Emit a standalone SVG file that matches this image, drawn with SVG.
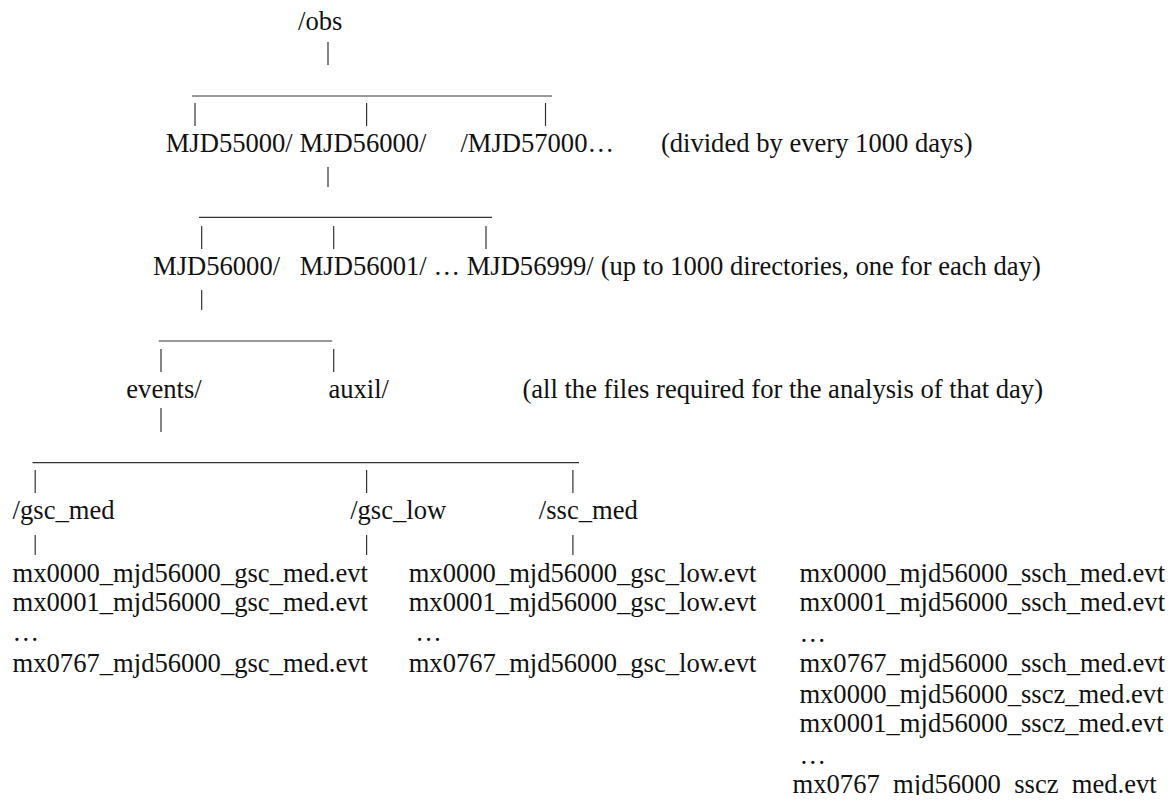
<svg xmlns="http://www.w3.org/2000/svg" width="1170" height="800" viewBox="0 0 1170 800">
<style>
text{font-family:"Liberation Serif","Times New Roman",serif;font-size:26.6px;fill:#111}
.c line{stroke:#333;stroke-width:1.2}
</style>
<defs><clipPath id="bot"><rect x="0" y="0" width="1170" height="795"/></clipPath></defs>
<rect width="1170" height="800" fill="#fff"/>
<g class="c" id="connectors">
<line x1="328" y1="42" x2="328" y2="65"/>
<line x1="192" y1="96" x2="552" y2="96"/>
<line x1="195" y1="103" x2="195" y2="126"/>
<line x1="366.6" y1="103" x2="366.6" y2="126"/>
<line x1="545.5" y1="103" x2="545.5" y2="126"/>
<line x1="328" y1="167" x2="328" y2="187"/>
<line x1="199" y1="217.3" x2="492" y2="217.3"/>
<line x1="201.7" y1="226" x2="201.7" y2="249"/>
<line x1="333.7" y1="226" x2="333.7" y2="249"/>
<line x1="486" y1="226" x2="486" y2="249"/>
<line x1="201.7" y1="290" x2="201.7" y2="310"/>
<line x1="158.8" y1="341" x2="332.2" y2="341"/>
<line x1="161" y1="349" x2="161" y2="372"/>
<line x1="333.7" y1="349" x2="333.7" y2="372"/>
<line x1="161" y1="408" x2="161" y2="432"/>
<line x1="32.5" y1="462.7" x2="579" y2="462.7"/>
<line x1="35.2" y1="470" x2="35.2" y2="493"/>
<line x1="366.6" y1="470" x2="366.6" y2="493"/>
<line x1="572.9" y1="470" x2="572.9" y2="493"/>
<line x1="35.2" y1="535" x2="35.2" y2="555"/>
<line x1="366.6" y1="535" x2="366.6" y2="555"/>
<line x1="572.9" y1="535" x2="572.9" y2="555"/>
</g>
<g id="obs"><text x="298" y="30">/obs</text></g>
<g id="level1">
<text x="165.7" y="152">MJD55000/ MJD56000/</text>
<text x="460.4" y="152">/MJD57000…</text>
</g>
<g id="note1"><text x="660.9" y="152">(divided by every 1000 days)</text></g>
<g id="level2">
<text x="153" y="275">MJD56000/</text>
<text x="299.7" y="275">MJD56001/ … MJD56999/</text>
</g>
<g id="note2"><text x="600.7" y="275">(up to 1000 directories, one for each day)</text></g>
<g id="level3">
<text x="126.3" y="398">events/</text>
<text x="328.4" y="398">auxil/</text>
</g>
<g id="note3"><text x="522.4" y="398">(all the files required for the analysis of that day)</text></g>
<g id="level4">
<text x="12.6" y="519">/gsc_med</text>
<text x="350.2" y="519">/gsc_low</text>
<text x="538.8" y="519">/ssc_med</text>
</g>
<g id="files-gsc-med">
<text x="12.6" y="582">mx0000_mjd56000_gsc_med.evt</text>
<text x="12.6" y="611">mx0001_mjd56000_gsc_med.evt</text>
<text x="12.6" y="641">…</text>
<text x="12.6" y="672">mx0767_mjd56000_gsc_med.evt</text>
</g>
<g id="files-gsc-low">
<text x="408.7" y="582">mx0000_mjd56000_gsc_low.evt</text>
<text x="408.7" y="611">mx0001_mjd56000_gsc_low.evt</text>
<text x="415.2" y="641">…</text>
<text x="408.7" y="672">mx0767_mjd56000_gsc_low.evt</text>
</g>
<g id="files-ssc-med">
<text x="799.4" y="582">mx0000_mjd56000_ssch_med.evt</text>
<text x="799.4" y="611">mx0001_mjd56000_ssch_med.evt</text>
<text x="799.4" y="642">…</text>
<text x="799.4" y="672">mx0767_mjd56000_ssch_med.evt</text>
<text x="799.4" y="703">mx0000_mjd56000_sscz_med.evt</text>
<text x="799.4" y="732">mx0001_mjd56000_sscz_med.evt</text>
<text x="799.4" y="764">…</text>
<text x="792.6" y="793" clip-path="url(#bot)">mx0767_mjd56000_sscz_med.evt</text>
</g>
</svg>
